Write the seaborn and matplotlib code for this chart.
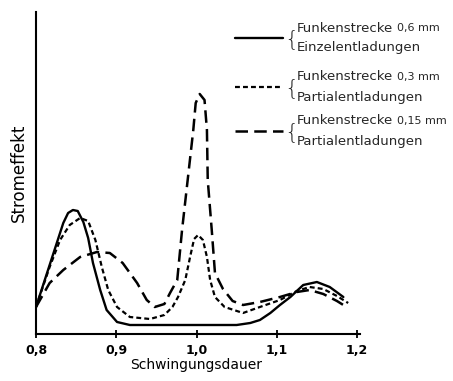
import numpy as np
import pandas as pd
import matplotlib
matplotlib.use("Agg")
import matplotlib.pyplot as plt
from matplotlib.lines import Line2D
import seaborn as sns

# Schwingungsdauer (x) and Stromeffekt (arbitrary units)
x_06 = [0.800, 0.817, 0.834, 0.840, 0.846, 0.852, 0.859, 0.865, 0.871, 0.880,
        0.888, 0.901, 0.917, 0.950, 1.000, 1.050, 1.067, 1.079, 1.092, 1.104,
        1.117, 1.133, 1.150, 1.166, 1.183]
y_06 = [27, 69, 111, 121, 124, 123, 112, 96, 71, 44,
        24, 12, 9, 9, 9, 9, 11, 14, 21, 29,
        37, 49, 52, 47, 37]

x_03 = [0.800, 0.817, 0.830, 0.842, 0.855, 0.865, 0.874, 0.882, 0.890, 0.901,
        0.917, 0.942, 0.960, 0.970, 0.977, 0.986, 0.992, 0.997, 1.002, 1.008,
        1.013, 1.017, 1.023, 1.035, 1.058, 1.079, 1.104, 1.125, 1.141, 1.158,
        1.175, 1.189]
y_03 = [27, 67, 94, 109, 116, 113, 94, 67, 44, 27,
        17, 15, 19, 27, 37, 54, 77, 95, 99, 94,
        77, 54, 37, 27, 21, 27, 34, 43, 47, 45,
        38, 31]

x_015 = [0.800, 0.817, 0.834, 0.855, 0.876, 0.892, 0.908, 0.926, 0.938, 0.948,
         0.960, 0.967, 0.976, 0.982, 0.989, 0.996, 0.999, 1.004, 1.010, 1.013,
         1.014, 1.019, 1.023, 1.033, 1.045, 1.058, 1.079, 1.104, 1.125, 1.141,
         1.158, 1.175, 1.189]
y_015 = [27, 51, 64, 77, 82, 81, 71, 51, 34, 27,
         30, 41, 54, 104, 154, 204, 231, 240, 234, 204,
         154, 104, 61, 45, 33, 29, 32, 37, 42, 44,
         40, 33, 26]

x_ticks = [0.8, 0.9, 1.0, 1.1, 1.2]
x_ticklabels = ["0,8", "0,9", "1,0", "1,1", "1,2"]

legend_name = ["Funkenstrecke", "Funkenstrecke", "Funkenstrecke"]
legend_gap = ["0,6 mm", "0,3 mm", "0,15 mm"]
legend_kind = ["Einzelentladungen", "Partialentladungen", "Partialentladungen"]

sns.set_theme(style="ticks")
plt.rcParams["font.family"] = ["DejaVu Sans"]

fig = plt.figure(figsize=(4.53, 3.81), dpi=100)
ax = fig.add_axes([36 / 453, 47 / 381, 321 / 453, 322 / 381])

styles = ["-", (0, (2.2, 1.4)), (0, (5, 2.5))]
widths = [1.7, 1.6, 1.8]
for xs, ys, ls, lw in zip([x_06, x_03, x_015], [y_06, y_03, y_015], styles, widths):
    df = pd.DataFrame({"x": xs, "y": ys})
    sns.lineplot(data=df, x="x", y="y", ax=ax, color="black",
                 linestyle=ls, linewidth=lw)

ax.set_xlim(0.8, 1.2)
ax.set_ylim(0, 322)
ax.set_xticks(x_ticks)
ax.set_xticklabels(x_ticklabels, fontsize=9, fontweight="bold")
ax.set_yticks([])
ax.tick_params(axis="x", direction="inout", length=6, width=1.3, pad=4, colors="black")
for s in ["top", "right"]:
    ax.spines[s].set_visible(False)
for s in ["left", "bottom"]:
    ax.spines[s].set_linewidth(1.5)
    ax.spines[s].set_color("black")
ax.spines["bottom"].set_bounds(0.8, 1.204)
ax.set_xlabel("Schwingungsdauer", fontsize=10, labelpad=1, color="black")
ax.set_ylabel("Stromeffekt", fontsize=12, labelpad=6, color="black")
ax.patch.set_alpha(0)

# hand-drawn style legend on the right
rows = [38, 87, 131]
for r, ls, lw, t1, t2, t3 in zip(rows, styles, widths, legend_name, legend_gap, legend_kind):
    yf = 1 - r / 381
    fig.add_artist(Line2D([235 / 453, 283 / 453], [yf, yf], color="black",
                          linestyle=ls, linewidth=lw, transform=fig.transFigure))
    fig.text(284 / 453, yf - 1 / 381, "{", fontsize=16, va="center", ha="left",
             fontweight="light")
    fig.text(297 / 453, yf + 10 / 381, t1, fontsize=9.5, va="center", ha="left")
    fig.text(397 / 453, yf + 10 / 381, t2, fontsize=8, va="center", ha="left")
    fig.text(297 / 453, yf - 10 / 381, t3, fontsize=9.5, va="center", ha="left")

fig.savefig("out.png", dpi=100)
